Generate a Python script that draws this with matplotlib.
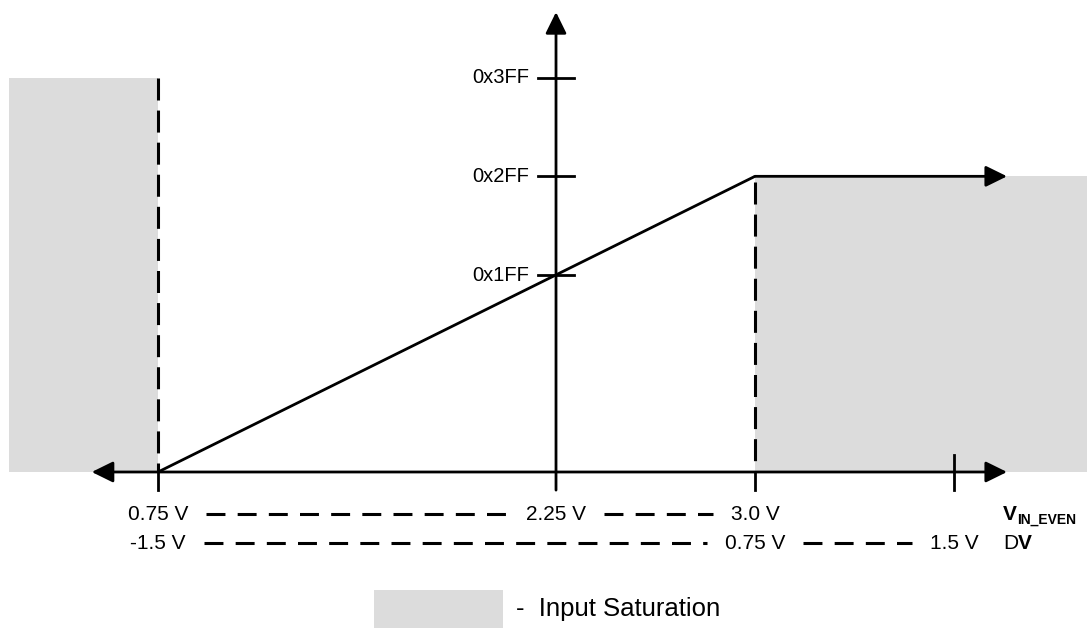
import matplotlib
matplotlib.use("Agg")
import matplotlib.pyplot as plt
from matplotlib.patches import Rectangle

plt.rcParams['font.family'] = ['Liberation Sans', 'DejaVu Sans']

# 入力電圧 (V_IN_EVEN) と差動電圧 (DV) の目盛り
vin_ticks = [0.75, 2.25, 3.0]
vin_labels = ["0.75 V", "2.25 V", "3.0 V"]
dv_ticks = [-1.5, 0.75, 1.5]
dv_labels = ["-1.5 V", "0.75 V", "1.5 V"]
dv_mid = 2.25  # DV = V_IN_EVEN - 2.25

# 出力コード
codes = [0x1FF, 0x2FF, 0x3FF]
code_labels = ["0x1FF", "0x2FF", "0x3FF"]

# 伝達特性 (折れ線)
curve_vin = [0.75, 3.0, 3.95]
curve_code = [0, 0x2FF, 0x2FF]

# 軸の範囲
x_axis_ends = [0.50, 3.95]
y_axis_top = 1193
tick_below = -47
extra_tick_vin = 3.75

# 入力飽和領域 (x0, x1, y0, y1)
sat_left = (0.19, 0.75, 0, 0x3FF)
sat_right = (3.0, 4.25, 0, 0x2FF)
sat_color = "#dcdcdc"

fig = plt.figure(figsize=(10.9, 6.28), dpi=100)
ax = fig.add_axes([0, 0, 1, 1])
ax.set_xlim(0.1542, 4.2628)
ax.set_ylim(-404.7, 1224.4)
ax.axis("off")

# 飽和領域
for x0, x1, y0, y1 in (sat_left, sat_right):
    ax.add_patch(Rectangle((x0, y0), x1 - x0, y1 - y0, color=sat_color, lw=0, zorder=0))

lw = 2.0
arrow_style = "-|>,head_length=0.65,head_width=0.32"
arrow_style2 = "<|-|>,head_length=0.65,head_width=0.32"

# 横軸 (両矢印)
ax.annotate("", xy=(x_axis_ends[1], 0), xytext=(x_axis_ends[0], 0),
            arrowprops=dict(arrowstyle=arrow_style2, mutation_scale=20, lw=lw,
                            color="black", shrinkA=0, shrinkB=0))
# 縦軸
ax.annotate("", xy=(dv_mid, y_axis_top), xytext=(dv_mid, tick_below),
            arrowprops=dict(arrowstyle=arrow_style, mutation_scale=20, lw=lw,
                            color="black", shrinkA=0, shrinkB=0))

# 伝達特性
ax.plot(curve_vin[:2], curve_code[:2], color="black", lw=lw, solid_capstyle="butt")
ax.annotate("", xy=(curve_vin[2], curve_code[2]), xytext=(curve_vin[1], curve_code[1]),
            arrowprops=dict(arrowstyle=arrow_style, mutation_scale=20, lw=lw,
                            color="black", shrinkA=0, shrinkB=0))

# 縦軸の目盛りとラベル
tick_half = 0.068
for c, lab in zip(codes, code_labels):
    ax.plot([dv_mid - tick_half, dv_mid + tick_half], [c, c], color="black", lw=lw)
    ax.annotate(lab, (dv_mid, c), xytext=(-19, 0), textcoords="offset points",
                ha="right", va="center", fontsize=14.5)

# 飽和境界の破線と横軸の目盛り
ax.plot([0.75, 0.75], [0x3FF, 0], color="black", lw=2.2, ls=(0, (7.2, 3.3)))
ax.plot([3.0, 3.0], [0x2FF - 15, 0], color="black", lw=2.2, ls=(0, (7.2, 3.3)))
for v in (0.75, 3.0):
    ax.plot([v, v], [0, tick_below], color="black", lw=lw)
ax.plot([extra_tick_vin, extra_tick_vin], [44, tick_below], color="black", lw=lw)

# 電圧ラベルの行
fs = 15
row1_y, row2_y = -110, -185
row1 = [ax.text(v, row1_y, lab, ha="center", va="center", fontsize=fs)
        for v, lab in zip(vin_ticks, vin_labels)]
row2 = [ax.text(d + dv_mid, row2_y, lab, ha="center", va="center", fontsize=fs)
        for d, lab in zip(dv_ticks, dv_labels)]

# 行末の軸名
ax.text(3.935, row1_y, "V", ha="left", va="center", fontsize=fs, fontweight="bold")
ax.text(3.988, row1_y - 14, "IN_EVEN", ha="left", va="center", fontsize=10, fontweight="bold")
ax.text(3.935, row2_y, "D", ha="left", va="center", fontsize=fs)
ax.text(3.99, row2_y, "V", ha="left", va="center", fontsize=fs, fontweight="bold")

# ラベル間の破線 (文字幅を測ってから引く)
fig.canvas.draw()
renderer = fig.canvas.get_renderer()
inv = ax.transData.inverted()
pad = 0.068
for texts, y in ((row1, row1_y), (row2, row2_y)):
    for a, b in zip(texts[:-1], texts[1:]):
        xa = inv.transform(a.get_window_extent(renderer))[1][0]
        xb = inv.transform(b.get_window_extent(renderer))[0][0]
        ax.plot([xa + pad, xb - pad], [y, y], color="black", lw=2.2, ls=(0, (6.2, 4.0)))

# 凡例
fig.patches.append(Rectangle((374 / 1090, 0), 129 / 1090, 38 / 628, color=sat_color,
                             lw=0, transform=fig.transFigure, figure=fig))
fig.text(516 / 1090, 19 / 628, "-  Input Saturation", ha="left", va="center", fontsize=18.5)

fig.savefig("out.png", dpi=100)
